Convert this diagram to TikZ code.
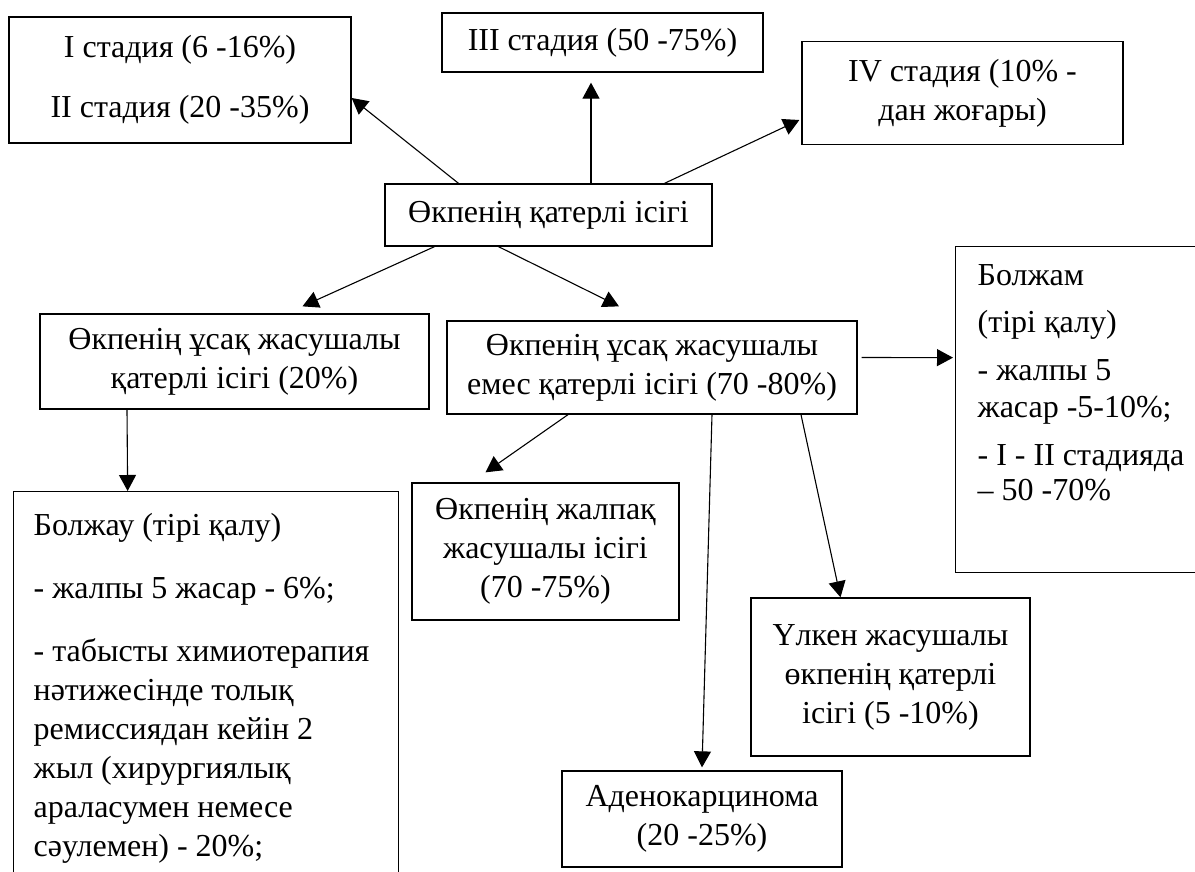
\documentclass[tikz,border=0pt]{standalone}
\usepackage{fontspec}
\setmainfont{Liberation Serif}
\usepackage{tikz}
\usetikzlibrary{positioning, arrows.meta}
\newcommand{\notebox}[3]{\parbox[t][#1][t]{#2}{\raggedright #3}}

\begin{document}
\begin{tikzpicture}[x=1pt, y=-1pt, >={Triangle[length=16pt, width=17pt]},
    box/.style={draw, line width=1.3pt, align=center, inner sep=0pt, font=\fontsize{32}{39}\selectfont},
    note/.style={draw, line width=1.3pt, anchor=north west, inner xsep=20pt, inner ysep=22pt}]
            \useasboundingbox (0, 0) rectangle (1195, 872);
            \clip (0, 0) rectangle (1195, 872);

            \node[box, minimum width=342pt, minimum height=126pt] (stages) at (180, 80) {I стадия (6 -16\%)\\[21pt]II стадия (20 -35\%)};
            \node[box, minimum width=321pt, minimum height=59pt] (stageiii) at (602.5, 42.5) {III стадия (50 -75\%)};
            \node[box, minimum width=321pt, minimum height=103pt] (stageiv) at (962.5, 93) {IV стадия (10\% -\\дан жоғары)};
            \node[box, minimum width=327pt, minimum height=62pt] (cancer) at (548.5, 215) {Өкпенің қатерлі ісігі};
            \node[box, minimum width=389pt, minimum height=95pt] (sclc) at (234.5, 361.5) {Өкпенің ұсақ жасушалы\\қатерлі ісігі (20\%)};
            \node[box, minimum width=410pt, minimum height=93pt] (nsclc) at (652, 367.5) {Өкпенің ұсақ жасушалы\\емес қатерлі ісігі (70 -80\%)};
            \node[box, minimum width=267pt, minimum height=137pt] (squamous) at (545.5, 551.5) {Өкпенің жалпақ\\жасушалы ісігі\\(70 -75\%)};
            \node[box, minimum width=279pt, minimum height=158pt] (largecell) at (890.5, 677) {Үлкен жасушалы\\өкпенің қатерлі\\ісігі (5 -10\%)};
            \node[box, minimum width=280pt, minimum height=96pt] (adeno) at (702, 819) {Аденокарцинома\\(20 -25\%)};

            % survival notes
            \node[note, font=\fontsize{32}{37}\selectfont, inner xsep=22pt, inner ysep=18pt] (progR) at (955, 246)
                {\notebox{290pt}{216pt}{Болжам\\[10pt](тірі қалу)\\[11pt]- жалпы 5\\жасар -5-10\%;\\[11pt]- I - II стадияда\\[-2pt]– 50 -70\%}};
            \node[note, font=\fontsize{32}{39}\selectfont] (progL) at (13, 491)
                {\notebox{365pt}{345pt}{Болжау (тірі қалу)\\[24pt]- жалпы 5 жасар - 6\%;\\[24pt]- табысты химиотерапия\\нәтижесінде толық\\ремиссиядан кейін 2\\жыл (хирургиялық\\араласумен немесе\\сәулемен) - 20\%;}};

            \begin{scope}[line width=1.1pt]
            \draw [->] ([xshift=-90pt]cancer.north) -- ([yshift=-18pt]stages.east);
            \draw [->] ([xshift=42.5pt]cancer.north) -- ([xshift=-11.5pt, yshift=-10pt]stageiii.south);
            \draw [->] ([xshift=116pt]cancer.north) -- ([xshift=-2pt, yshift=-27pt]stageiv.west);
            \draw [->] ([xshift=-114pt]cancer.south) -- ([xshift=68pt, yshift=7pt]sclc.north);
            \draw [->] ([xshift=-50pt]cancer.south) -- ([xshift=-33pt, yshift=14pt]nsclc.north);
            \draw [->] ([xshift=-107.5pt]sclc.south) -- ([xshift=-78.5pt]progL.north);
            \draw [->] ([xshift=4pt, yshift=10pt]nsclc.east) -- ([xshift=-2pt, yshift=52pt]progR.west);
            \draw [->] ([xshift=-84pt]nsclc.south) -- ([xshift=-60pt, yshift=10pt]squamous.north);
            \draw [->] ([xshift=60pt]nsclc.south) -- ([yshift=3pt]adeno.north);
            \draw [->] ([xshift=149pt]nsclc.south) -- ([xshift=-50pt]largecell.north);
            \end{scope}
        \end{tikzpicture}
\end{document}
